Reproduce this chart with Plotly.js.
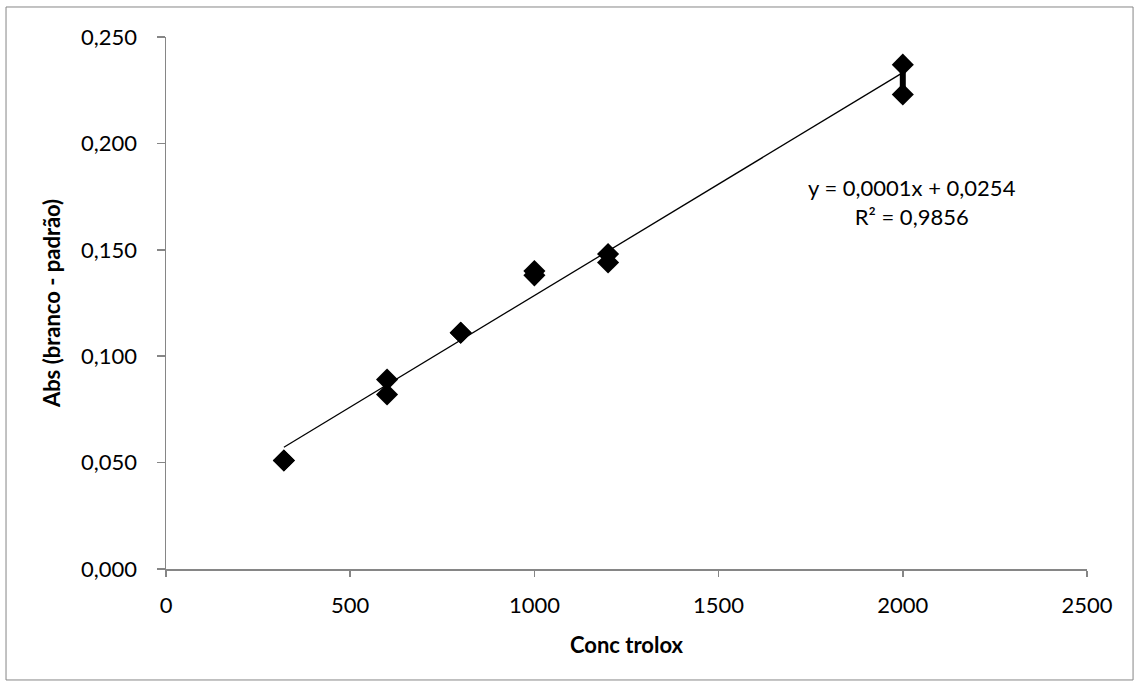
<!DOCTYPE html>
<html><head><meta charset="utf-8">
<script src="https://cdn.plot.ly/plotly-3.0.1.min.js"></script>
<style>html,body{margin:0;padding:0;background:#fff}#c{width:1139px;height:688px}</style>
</head><body><div id="c"></div>
<script>
const concTrolox = [320, 320, 600, 600, 800, 800, 1000, 1000, 1200, 1200, 2000, 2000];
const absValues = [0.051, 0.051, 0.089, 0.082, 0.111, 0.111, 0.140, 0.138, 0.148, 0.144, 0.237, 0.223];
const xTicks = [0, 500, 1000, 1500, 2000, 2500];
const yTicks = [0, 0.05, 0.10, 0.15, 0.20, 0.25];
const eqText = 'y = 0,0001x + 0,0254<br>R² = 0,9856';

// least-squares trendline from the data
const n = concTrolox.length;
const mx = concTrolox.reduce((a,b)=>a+b,0)/n;
const my = absValues.reduce((a,b)=>a+b,0)/n;
let sxy=0, sxx=0;
for (let i=0;i<n;i++){ sxy+=(concTrolox[i]-mx)*(absValues[i]-my); sxx+=(concTrolox[i]-mx)**2; }
const slope = sxy/sxx, icpt = my - slope*mx;
const xMin = Math.min(...concTrolox), xMax = Math.max(...concTrolox);
const trendX = [xMin, xMax];
const trendY = trendX.map(v => icpt + slope*v);

// dense cluster at highest concentration (drawn as connecting bar)
const topY = absValues.filter((v,i)=>concTrolox[i]===xMax);
const barX = [xMax, xMax];
const barY = [Math.min(...topY), Math.max(...topY)];

const font = 'Lato, "Open Sans", sans-serif';
const data = [
  {x: trendX, y: trendY, mode: 'lines', line: {color: '#000', width: 1.3}, hoverinfo: 'skip', showlegend: false},
  {x: barX, y: barY, mode: 'lines', line: {color: '#000', width: 6}, hoverinfo: 'skip', showlegend: false},
  {x: concTrolox, y: absValues, mode: 'markers', marker: {symbol: 'diamond', size: 17, color: '#000'}, showlegend: false}
];
const layout = {
  width: 1139, height: 688,
  margin: {l: 166, r: 52, t: 37, b: 119},
  paper_bgcolor: '#fff', plot_bgcolor: '#fff',
  separators: ',.',
  font: {family: font, size: 22, color: '#000'},
  xaxis: {
    range: [0, 2500], tickvals: xTicks, ticktext: xTicks.map(String),
    showgrid: false, zeroline: false, showline: true, linecolor: '#868686', linewidth: 1.5,
    ticks: 'outside', ticklen: 6, tickcolor: '#868686', tickwidth: 1.5,
    ticklabelstandoff: 10,
    title: {text: '<b>Conc trolox</b>', font: {family: font, size: 22}, standoff: 20},
    tickfont: {family: font, size: 22}
  },
  yaxis: {
    range: [0, 0.25], tickvals: yTicks, tickformat: '.3f',
    showgrid: false, zeroline: false, showline: true, linecolor: '#868686', linewidth: 1.5,
    ticks: 'outside', ticklen: 8, tickcolor: '#868686', tickwidth: 1.5,
    ticklabelstandoff: 15,
    title: {text: '<b>Abs (branco - padrão)</b>', font: {family: font, size: 22}, standoff: 14},
    tickfont: {family: font, size: 22}
  },
  annotations: [{
    x: 2025, y: 0.1725, xref: 'x', yref: 'y', text: eqText, showarrow: false,
    align: 'center', font: {family: font, size: 22, color: '#000'}
  }],
  shapes: [{
    type: 'rect', xref: 'paper', yref: 'paper',
    x0: -0.1737, x1: 1.05, y0: -0.2086, y1: 1.0564,
    line: {color: '#868686', width: 1}, fillcolor: 'rgba(0,0,0,0)', layer: 'below'
  }]
};
Plotly.newPlot('c', data, layout, {displayModeBar: false, staticPlot: true});
</script></body></html>
